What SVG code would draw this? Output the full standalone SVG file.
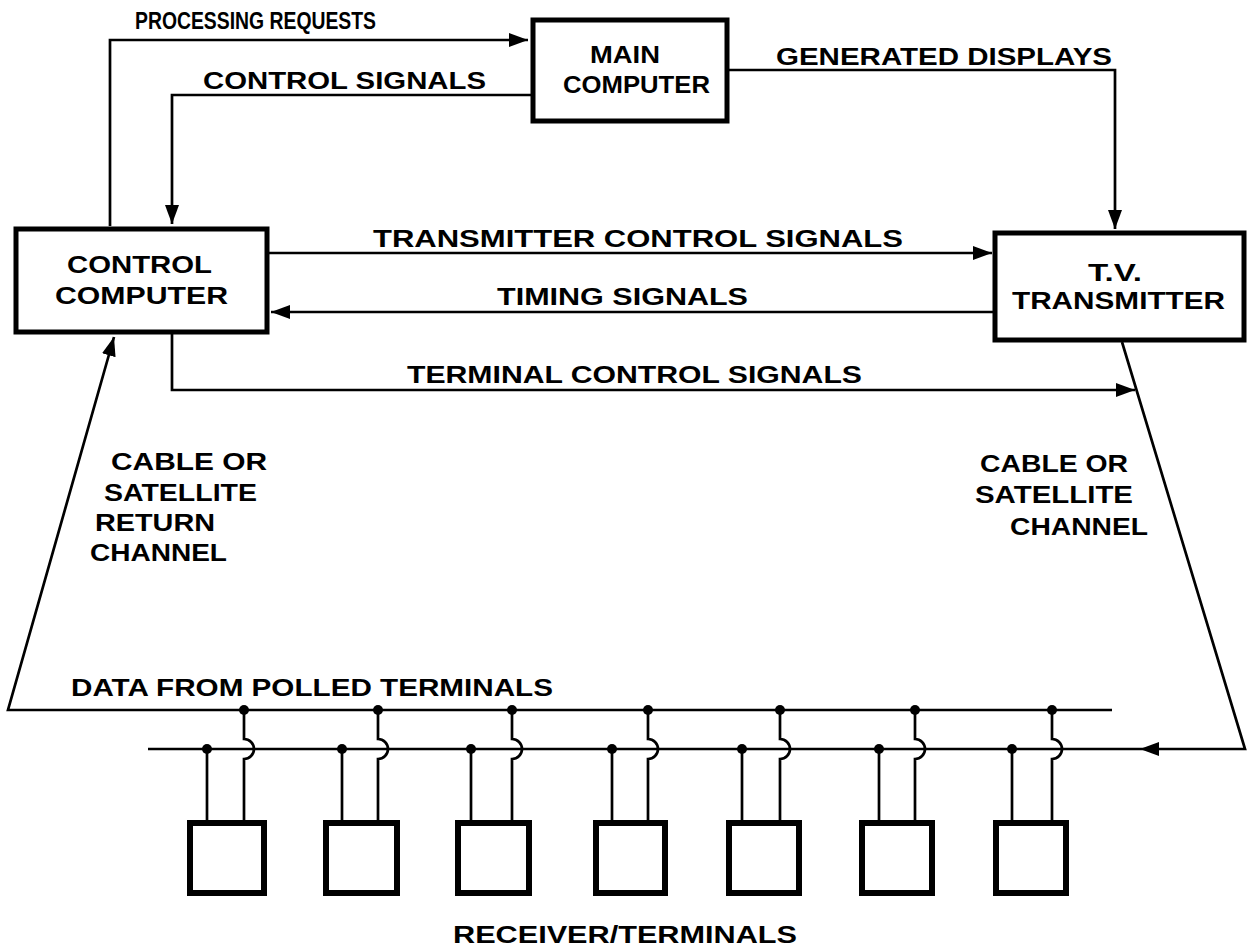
<svg xmlns="http://www.w3.org/2000/svg" width="1249" height="951" viewBox="0 0 1249 951">
<defs>
<marker id="arr" markerUnits="userSpaceOnUse" markerWidth="20" markerHeight="14" refX="19" refY="7" orient="auto">
<path d="M0,0 L19,7 L0,14 z" fill="#000"/>
</marker>
<style>
.box{fill:#fff;stroke:#000;stroke-width:5}
.term{fill:#fff;stroke:#000;stroke-width:6}
.ln{fill:none;stroke:#000;stroke-width:2.7}
.dot{fill:#000}
text{font-family:"Liberation Sans",Arial,sans-serif;font-weight:bold;font-size:23px;fill:#000}
</style>
</defs>
<rect width="1249" height="951" fill="#fff"/>

<g id="connectors">
<path class="ln" d="M110,226 V40 H528" marker-end="url(#arr)"/>
<path class="ln" d="M531,95 H172 V224" marker-end="url(#arr)"/>
<path class="ln" d="M729,70 H1115 V229" marker-end="url(#arr)"/>
<path class="ln" d="M269,253 H992" marker-end="url(#arr)"/>
<path class="ln" d="M993,312 H271" marker-end="url(#arr)"/>
<path class="ln" d="M172,334 V390 H1135" marker-end="url(#arr)"/>
<path class="ln" d="M1112,710 H8 L114,337" marker-end="url(#arr)"/>
<path class="ln" d="M1122,342 L1245,749 H1140" marker-end="url(#arr)"/>
<path class="ln" d="M1140,749 H148"/>
<g id="drops">
<path class="ln" d="M207,749 V820"/><path class="ln" d="M244,710 V739 A10,10 0 0 1 244,759 V820"/>
<path class="ln" d="M342,749 V820"/><path class="ln" d="M378,710 V739 A10,10 0 0 1 378,759 V820"/>
<path class="ln" d="M471,749 V820"/><path class="ln" d="M512,710 V739 A10,10 0 0 1 512,759 V820"/>
<path class="ln" d="M612,749 V820"/><path class="ln" d="M648,710 V739 A10,10 0 0 1 648,759 V820"/>
<path class="ln" d="M742,749 V820"/><path class="ln" d="M780,710 V739 A10,10 0 0 1 780,759 V820"/>
<path class="ln" d="M879,749 V820"/><path class="ln" d="M915,710 V739 A10,10 0 0 1 915,759 V820"/>
<path class="ln" d="M1012,749 V820"/><path class="ln" d="M1052,710 V739 A10,10 0 0 1 1052,759 V820"/>
</g>
<g id="junctions">
<circle class="dot" cx="207" cy="749" r="5"/><circle class="dot" cx="244" cy="710" r="5"/>
<circle class="dot" cx="342" cy="749" r="5"/><circle class="dot" cx="378" cy="710" r="5"/>
<circle class="dot" cx="471" cy="749" r="5"/><circle class="dot" cx="512" cy="710" r="5"/>
<circle class="dot" cx="612" cy="749" r="5"/><circle class="dot" cx="648" cy="710" r="5"/>
<circle class="dot" cx="742" cy="749" r="5"/><circle class="dot" cx="780" cy="710" r="5"/>
<circle class="dot" cx="879" cy="749" r="5"/><circle class="dot" cx="915" cy="710" r="5"/>
<circle class="dot" cx="1012" cy="749" r="5"/><circle class="dot" cx="1052" cy="710" r="5"/>
</g>
</g>

<g id="labels">
<text x="135" y="29" textLength="241" lengthAdjust="spacingAndGlyphs">PROCESSING REQUESTS</text>
<text x="203" y="89" textLength="283" lengthAdjust="spacingAndGlyphs">CONTROL SIGNALS</text>
<text x="776" y="65" textLength="336" lengthAdjust="spacingAndGlyphs">GENERATED DISPLAYS</text>
<text x="373" y="247" textLength="530" lengthAdjust="spacingAndGlyphs">TRANSMITTER CONTROL SIGNALS</text>
<text x="497" y="305" textLength="251" lengthAdjust="spacingAndGlyphs">TIMING SIGNALS</text>
<text x="407" y="383" textLength="455" lengthAdjust="spacingAndGlyphs">TERMINAL CONTROL SIGNALS</text>
<text x="111" y="470" textLength="156" lengthAdjust="spacingAndGlyphs">CABLE OR</text>
<text x="104" y="501" textLength="153" lengthAdjust="spacingAndGlyphs">SATELLITE</text>
<text x="95" y="531" textLength="120" lengthAdjust="spacingAndGlyphs">RETURN</text>
<text x="90" y="561" textLength="137" lengthAdjust="spacingAndGlyphs">CHANNEL</text>
<text x="980" y="472" textLength="148" lengthAdjust="spacingAndGlyphs">CABLE OR</text>
<text x="975" y="503" textLength="158" lengthAdjust="spacingAndGlyphs">SATELLITE</text>
<text x="1010" y="535" textLength="138" lengthAdjust="spacingAndGlyphs">CHANNEL</text>
<text x="71" y="696" textLength="482" lengthAdjust="spacingAndGlyphs">DATA FROM POLLED TERMINALS</text>
<text x="453" y="943" textLength="344" lengthAdjust="spacingAndGlyphs">RECEIVER/TERMINALS</text>
</g>

<g id="main-computer">
<rect class="box" x="533" y="20" width="194" height="101"/>
<text x="590" y="63" textLength="70" lengthAdjust="spacingAndGlyphs">MAIN</text>
<text x="563" y="93" textLength="147" lengthAdjust="spacingAndGlyphs">COMPUTER</text>
</g>

<g id="control-computer">
<rect class="box" x="16" y="229" width="251" height="103"/>
<text x="67" y="273" textLength="145" lengthAdjust="spacingAndGlyphs">CONTROL</text>
<text x="55" y="304" textLength="173" lengthAdjust="spacingAndGlyphs">COMPUTER</text>
</g>

<g id="tv-transmitter">
<rect class="box" x="995" y="233" width="249" height="107"/>
<text x="1088" y="281" textLength="54" lengthAdjust="spacingAndGlyphs">T.V.</text>
<text x="1012" y="309" textLength="213" lengthAdjust="spacingAndGlyphs">TRANSMITTER</text>
</g>

<g id="terminal-1"><rect class="term" x="190" y="823" width="74" height="70"/></g>
<g id="terminal-2"><rect class="term" x="326" y="823" width="71" height="70"/></g>
<g id="terminal-3"><rect class="term" x="458" y="823" width="71" height="70"/></g>
<g id="terminal-4"><rect class="term" x="596" y="823" width="69" height="70"/></g>
<g id="terminal-5"><rect class="term" x="729" y="823" width="70" height="70"/></g>
<g id="terminal-6"><rect class="term" x="862" y="823" width="70" height="70"/></g>
<g id="terminal-7"><rect class="term" x="996" y="823" width="70" height="70"/></g>
</svg>
